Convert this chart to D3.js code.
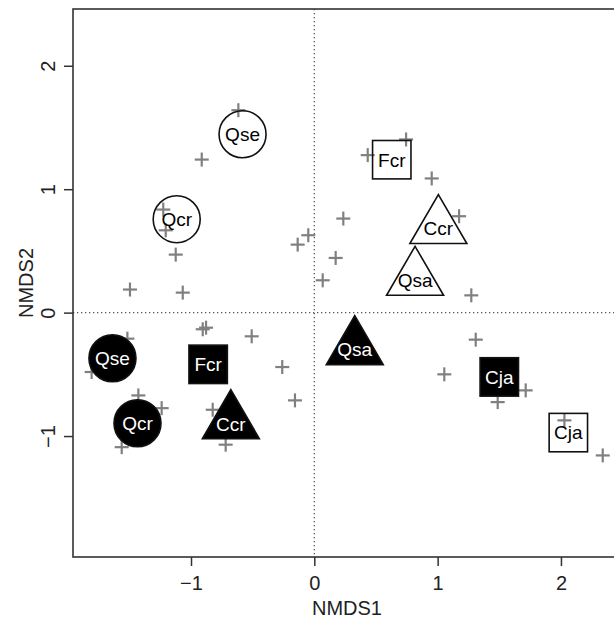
<!DOCTYPE html>
<html><head><meta charset="utf-8">
<script src="https://cdn.jsdelivr.net/npm/d3@7"></script>
<style>body{margin:0;background:#fff}svg{display:block}</style>
</head><body>
<svg id="c" width="614" height="620"></svg>
<script>
// Species scores (grey crosses)
const speciesX = [-0.616,-0.913,-1.225,-1.205,-1.124,-1.495,-1.067,-0.135,-0.049,0.744,0.433,0.952,1.174,0.235,0.173,0.068,1.273,
  -0.905,-0.878,-0.508,-0.260,-0.157,-1.516,-1.806,-1.427,-1.238,-1.562,-0.824,-0.719,1.309,1.054,1.714,1.487,2.028,2.339];
const speciesY = [1.64,1.24,0.835,0.667,0.47,0.187,0.162,0.551,0.627,1.403,1.276,1.087,0.781,0.762,0.443,0.262,0.14,
  -0.135,-0.122,-0.192,-0.441,-0.711,-0.211,-0.481,-0.671,-0.774,-1.09,-0.787,-1.07,-0.219,-0.5,-0.63,-0.725,-0.873,-1.157];
// Group centroids
const groupLabels = ["Qse","Qcr","Fcr","Ccr","Qsa","Cja","Qse","Qcr","Fcr","Ccr","Qsa","Cja"];
const groupShapes = ["circle","circle","square","triangle","triangle","square","circle","circle","square","triangle","triangle","square"];
const groupFilled = [false,false,false,false,false,false,true,true,true,true,true,true];
const groupX = [-0.582,-1.116,0.628,1.006,0.817,2.06,-1.637,-1.434,-0.861,-0.677,0.328,1.50];
const groupY = [1.445,0.757,1.239,0.681,0.262,-0.972,-0.37,-0.896,-0.419,-0.9,-0.30,-0.521];
const xTicks = [-1,0,1,2];
const yTicks = [-1,0,1,2];
const xTitle = "NMDS1", yTitle = "NMDS2";

const svg = d3.select("#c");
const L=73, R=621, T=9, B=557;
const x = d3.scaleLinear().domain([-1.957,2.487]).range([L,R]);
const y = d3.scaleLinear().domain([-1.98,2.46]).range([B,T]);
const font = "Liberation Sans, Arial, Helvetica, sans-serif";

// reference lines
svg.append("line").attr("x1",x(0)).attr("x2",x(0)).attr("y1",T).attr("y2",B)
  .attr("stroke","#555").attr("stroke-width",1.3).attr("stroke-dasharray","1.3,2.7");
svg.append("line").attr("x1",L).attr("x2",R).attr("y1",y(0)).attr("y2",y(0))
  .attr("stroke","#555").attr("stroke-width",1.3).attr("stroke-dasharray","1.3,2.7");

// crosses
const cs = 7;
const sp = svg.append("g").attr("stroke","#808080").attr("stroke-width",2.2);
speciesX.forEach((v,i)=>{
  const px=x(v), py=y(speciesY[i]);
  sp.append("line").attr("x1",px-cs).attr("x2",px+cs).attr("y1",py).attr("y2",py);
  sp.append("line").attr("x1",px).attr("x2",px).attr("y1",py-cs).attr("y2",py+cs);
});

// groups
const gg = svg.append("g");
groupX.forEach((v,i)=>{
  const px=x(v), py=y(groupY[i]);
  const filled = groupFilled[i];
  const fill = filled ? "#000" : "none";
  let s;
  if(groupShapes[i]==="circle"){
    s = gg.append("circle").attr("cx",px).attr("cy",py).attr("r",23.5);
  } else if(groupShapes[i]==="square"){
    s = gg.append("rect").attr("x",px-19.2).attr("y",py-19.2).attr("width",38.4).attr("height",38.4);
  } else {
    s = gg.append("path").attr("d",d3.line()([[px,py-34],[px+28.5,py+15],[px-28.5,py+15]])+"Z");
  }
  s.attr("fill",fill).attr("stroke","#111").attr("stroke-width",1.6);
  gg.append("text").attr("x",px).attr("y",py+6.8).attr("text-anchor","middle")
    .attr("font-family",font).attr("font-size",19).attr("fill",filled?"#fff":"#000")
    .text(groupLabels[i]);
});

// frame
svg.append("rect").attr("x",L).attr("y",T).attr("width",R-L).attr("height",B-T)
  .attr("fill","none").attr("stroke","#333").attr("stroke-width",1.6);

// x axis
const xa = svg.append("g").attr("transform",`translate(0,${B})`)
  .call(d3.axisBottom(x).tickValues(xTicks).tickSize(9).tickFormat(d=>d<0?"\u2212"+Math.abs(d):d));
xa.select(".domain").remove();
xa.selectAll("line").attr("stroke","#333").attr("stroke-width",1.5);
xa.selectAll("text").attr("font-family",font).attr("font-size",20).attr("fill","#222")
  .attr("dy",null).attr("y",33);

// y axis
const ya = svg.append("g").attr("transform",`translate(${L},0)`)
  .call(d3.axisLeft(y).tickValues(yTicks).tickSize(9).tickFormat(d=>d<0?"\u2212"+Math.abs(d):d));
ya.select(".domain").remove();
ya.selectAll("line").attr("stroke","#333").attr("stroke-width",1.5);
ya.selectAll("text").attr("font-family",font).attr("font-size",20).attr("fill","#222")
  .attr("x",null).attr("dy",null).attr("text-anchor","middle")
  .attr("transform","translate(-18,0) rotate(-90)").attr("y",0);

// titles
svg.append("text").attr("x",(L+R)/2).attr("y",615).attr("text-anchor","middle")
  .attr("font-family",font).attr("font-size",20).attr("fill","#222").text(xTitle);
svg.append("text").attr("transform",`translate(33,${(T+B)/2}) rotate(-90)`).attr("text-anchor","middle")
  .attr("font-family",font).attr("font-size",20).attr("fill","#222").text(yTitle);
</script>
</body></html>
